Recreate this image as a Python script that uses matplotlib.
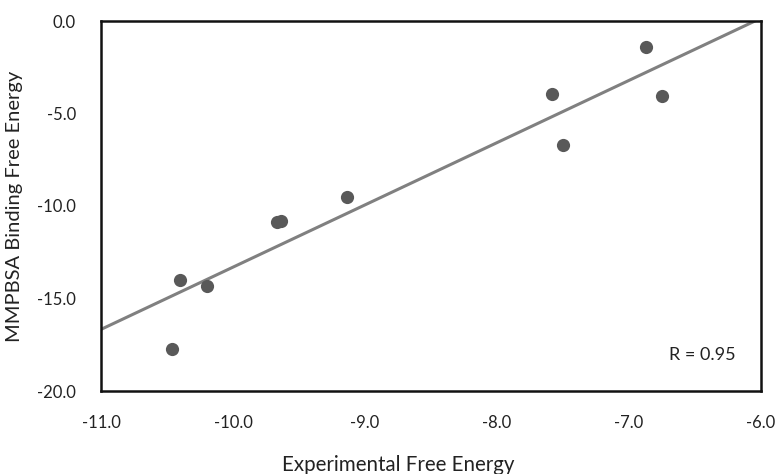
import matplotlib.pyplot as plt
import numpy as np

# experimental vs MMPBSA binding free energies
exp_energy = [-10.46, -10.40, -10.20, -9.67, -9.64, -9.14, -7.58, -7.50, -6.87, -6.75]
mmpbsa_energy = [-17.73, -14.02, -14.32, -10.86, -10.81, -9.51, -3.96, -6.72, -1.41, -4.04]
x_ticks = [-11.0, -10.0, -9.0, -8.0, -7.0, -6.0]
y_ticks = [0.0, -5.0, -10.0, -15.0, -20.0]
r_label = 'R = 0.95'

plt.rcParams['font.family'] = ['Lato', 'DejaVu Sans']

W, H = 783, 474
fig = plt.figure(figsize=(W / 100, H / 100), dpi=100)
ax = fig.add_axes([101 / W, 1 - 391 / H, 660 / W, 370 / H])

# linear trendline through the points, over the full x range
slope, intercept = np.polyfit(exp_energy, mmpbsa_energy, 1)
xl = np.array([x_ticks[0], x_ticks[-1]])
ax.plot(xl, slope * xl + intercept, color='#808080', linewidth=2.2, zorder=2)

ax.plot(exp_energy, mmpbsa_energy, 'o', color='#595959', markersize=9.5,
        markeredgewidth=0, zorder=3)

ax.set_xlim(-11, -6)
ax.set_ylim(-20, 0)
ax.set_xticks(x_ticks)
ax.set_yticks(y_ticks)
ax.set_xticklabels([f'{t:.1f}' for t in x_ticks])
ax.set_yticklabels([f'{t:.1f}' for t in y_ticks])
ax.tick_params(length=0, labelsize=12, colors='#222222')
ax.tick_params(axis='x', pad=17)
ax.tick_params(axis='y', pad=18)

for s in ax.spines.values():
    s.set_linewidth(1.8)
    s.set_color('#111111')

# axis titles (x title sits centred on the whole chart, not the plot area)
fig.text(398 / W, 1 - 471 / H, 'Experimental Free Energy', ha='center', va='baseline',
         fontsize=14.8, color='#222222')
ax.set_ylabel('MMPBSA Binding Free Energy', fontsize=14.5, color='#222222', labelpad=10)

ax.text(0.962, 0.097, r_label, transform=ax.transAxes, ha='right', va='center',
        fontsize=13, color='#222222')

fig.savefig('out.png', dpi=100)
